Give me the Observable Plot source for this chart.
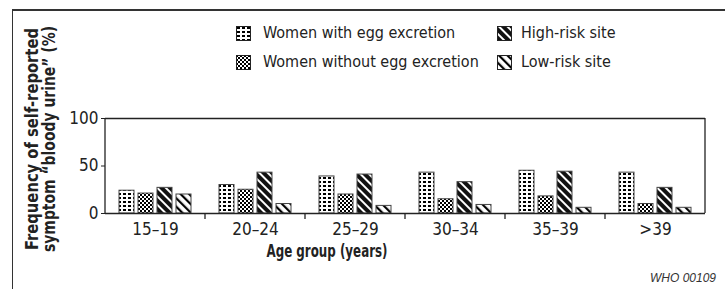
<!DOCTYPE html>
<html>
<head>
<meta charset="utf-8">
<script src="https://cdn.jsdelivr.net/npm/d3@7"></script>
<script src="https://cdn.jsdelivr.net/npm/@observablehq/plot@0.6"></script>
<style>
  html, body { margin: 0; padding: 0; background: #fff; }
  #wrap { position: relative; width: 725px; height: 289px; overflow: hidden;
    font-family: "Liberation Sans Narrow", "DejaVu Sans Condensed", "Roboto Condensed", "Liberation Sans", sans-serif; color: #222; }
  #frameTop { position: absolute; left: 12px; top: 9px; width: 713px; height: 0; border-top: 2px solid #333; }
  #frameLeft { position: absolute; left: 12px; top: 9px; width: 0; height: 280px; border-left: 1.5px solid #333; }
  .leg { position: absolute; font-size: 16px; line-height: 18px; white-space: nowrap; }
  .sw { position: absolute; width: 15px; height: 15px; }
  #chart { position: absolute; left: 0; top: 0; }
</style>
</head>
<body>
<svg width="0" height="0" style="position:absolute">
  <defs>
    <pattern id="pDots" width="5" height="4" patternUnits="userSpaceOnUse">
      <rect width="5" height="4" fill="#fff"/>
      <rect x="1" y="1" width="3" height="2" fill="#000"/>
    </pattern>
    <pattern id="pCheck" width="4" height="4" patternUnits="userSpaceOnUse">
      <rect width="4" height="4" fill="#fff"/>
      <rect x="0" y="0" width="2" height="2" fill="#000"/>
      <rect x="2" y="2" width="2" height="2" fill="#000"/>
    </pattern>
    <pattern id="pHigh" width="6" height="6" patternUnits="userSpaceOnUse" patternTransform="rotate(-45)">
      <rect width="6" height="6" fill="#111"/>
      <rect x="0" y="0" width="2" height="6" fill="#fff"/>
    </pattern>
    <pattern id="pLow" width="6" height="6" patternUnits="userSpaceOnUse" patternTransform="rotate(-45)">
      <rect width="6" height="6" fill="#fff"/>
      <rect x="0" y="0" width="2.2" height="6" fill="#000"/>
    </pattern>
  </defs>
</svg>
<div id="wrap">
  <div id="frameTop"></div>
  <div id="frameLeft"></div>
  <div id="chart"></div>
</div>
<script>
const groups = ["15–19", "20–24", "25–29", "30–34", "35–39", ">39"];
const series = ["Women with egg excretion", "Women without egg excretion", "High-risk site", "Low-risk site"];
const withEgg = [24, 30, 39, 43, 45, 43];
const withoutEgg = [21, 25, 20, 15, 18, 10];
const highRisk = [27, 43, 41, 33, 44, 27];
const lowRisk = [20, 10, 8, 9, 6, 6];
const yTicks = [0, 50, 100];
const patterns = ["url(#pDots)", "url(#pCheck)", "url(#pHigh)", "url(#pLow)"];

const seriesValues = [withEgg, withoutEgg, highRisk, lowRisk];
const data = groups.flatMap((g, i) => series.map((s, j) => ({group: g, series: s, value: seriesValues[j][i]})));

const fontStack = '"Liberation Sans Narrow", "DejaVu Sans Condensed", "Roboto Condensed", "Liberation Sans", sans-serif';

const plot = Plot.plot({
  width: 725,
  height: 289,
  marginTop: 118,
  marginBottom: 76,
  marginLeft: 103,
  marginRight: 18,
  style: {fontFamily: fontStack, fontSize: "17px", color: "#222", background: "transparent", overflow: "visible"},
  fx: {domain: groups, padding: 0, label: null, tickSize: 0, tickPadding: 9, axis: "bottom"},
  x: {domain: series, paddingInner: 0.23, paddingOuter: 0.7, axis: null},
  y: {domain: [0, 100], ticks: yTicks, tickSize: 4, tickPadding: 3, label: null},
  color: {domain: series, range: patterns},
  marks: [
    Plot.barY(data, {fx: "group", x: "series", y: "value", fill: "series", stroke: "#444", strokeWidth: 1}),
    Plot.ruleY([0, 100], {stroke: "#222", strokeWidth: 1.3})
  ]
});
document.getElementById("chart").appendChild(plot);

// decorations: plot box sides, group boundary ticks, titles
const svg = d3.select(plot);
const fx = plot.scale("fx");
const yS = plot.scale("y");
const y0 = yS.apply(0), y100 = yS.apply(100);
const left = fx.apply(groups[0]);
const right = fx.apply(groups[groups.length - 1]) + fx.bandwidth;
const g = svg.append("g").attr("stroke", "#222").attr("stroke-width", 1.3);
g.append("line").attr("x1", left).attr("x2", left).attr("y1", y100).attr("y2", y0);
g.append("line").attr("x1", right).attr("x2", right).attr("y1", y100).attr("y2", y0);
groups.slice(1).forEach(gr => {
  const x = fx.apply(gr);
  g.append("line").attr("x1", x).attr("x2", x).attr("y1", y0).attr("y2", y0 + 6);
});

svg.append("text")
  .attr("x", 327).attr("y", 257)
  .attr("text-anchor", "middle")
  .attr("font-weight", "bold").attr("font-size", 17).attr("fill", "#222")
  .attr("textLength", 121).attr("lengthAdjust", "spacingAndGlyphs")
  .text("Age group (years)");

const yl = svg.append("text")
  .attr("transform", "translate(38,139) rotate(-90)")
  .attr("text-anchor", "middle")
  .attr("font-weight", "bold").attr("font-size", 17).attr("fill", "#222");
yl.append("tspan").attr("x", 0).attr("y", 0)
  .attr("textLength", 222).attr("lengthAdjust", "spacingAndGlyphs")
  .text("Frequency of self-reported");
yl.append("tspan").attr("x", 0).attr("y", 17)
  .attr("textLength", 226).attr("lengthAdjust", "spacingAndGlyphs")
  .text("symptom “bloody urine” (%)");

svg.append("text")
  .attr("x", 716).attr("y", 282)
  .attr("text-anchor", "end")
  .attr("font-style", "italic").attr("font-size", 12).attr("fill", "#333")
  .attr("font-family", '"Liberation Sans", sans-serif')
  .text("WHO 00109");

// legend
const legendPos = [
  {sx: 236, sy: 26, tx: 263, ty: 24},
  {sx: 236, sy: 55, tx: 263, ty: 53},
  {sx: 497, sy: 26, tx: 521, ty: 24},
  {sx: 497, sy: 55, tx: 521, ty: 53}
];
const wrap = d3.select("#wrap");
series.forEach((s, i) => {
  const p = legendPos[i];
  const sw = wrap.append("svg").attr("class", "sw")
    .style("left", p.sx + "px").style("top", p.sy + "px")
    .attr("width", 15).attr("height", 15);
  sw.append("rect").attr("x", 0.5).attr("y", 0.5).attr("width", 14).attr("height", 14)
    .attr("fill", patterns[i]).attr("stroke", "#222").attr("stroke-width", 1);
  wrap.append("div").attr("class", "leg")
    .style("left", p.tx + "px").style("top", p.ty + "px")
    .text(s);
});
</script>
</body>
</html>
